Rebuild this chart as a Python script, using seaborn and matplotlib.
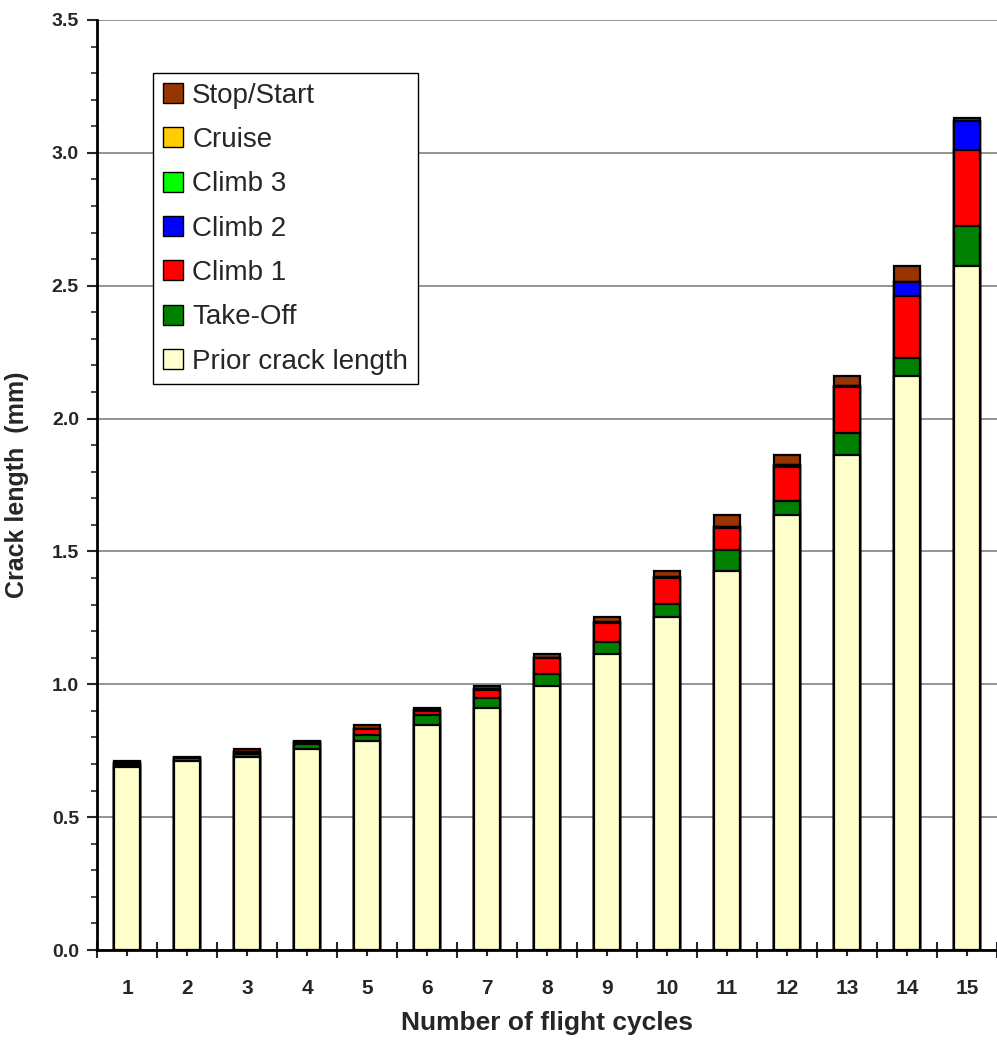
import numpy as np
import pandas as pd
import matplotlib
matplotlib.use("Agg")
import matplotlib.pyplot as plt
import seaborn as sns
from matplotlib.ticker import MultipleLocator, FixedLocator, FormatStrFormatter

# Crack growth per flight cycle, split by flight segment (mm)
cycles = ["1", "2", "3", "4", "5", "6", "7", "8", "9", "10", "11", "12", "13", "14", "15"]
prior = [0.690, 0.711, 0.728, 0.757, 0.788, 0.848, 0.911, 0.995, 1.115, 1.252,
         1.428, 1.636, 1.864, 2.160, 2.575]
take_off = [0.008, 0.011, 0.011, 0.020, 0.022, 0.038, 0.037, 0.045, 0.043, 0.051,
            0.078, 0.053, 0.081, 0.068, 0.148]
climb1 = [0.004, 0.002, 0.006, 0.005, 0.021, 0.014, 0.031, 0.058, 0.074, 0.097,
          0.084, 0.127, 0.174, 0.233, 0.289]
climb2 = [0.001, 0.000, 0.002, 0.002, 0.002, 0.002, 0.003, 0.002, 0.003, 0.003,
          0.003, 0.010, 0.003, 0.052, 0.107]
climb3 = [0.000, 0.000, 0.000, 0.000, 0.000, 0.000, 0.000, 0.000, 0.000, 0.000,
          0.000, 0.000, 0.000, 0.000, 0.000]
cruise = [0.000, 0.000, 0.000, 0.000, 0.000, 0.000, 0.000, 0.000, 0.000, 0.000,
          0.000, 0.000, 0.000, 0.000, 0.000]
stop_start = [0.008, 0.004, 0.010, 0.004, 0.015, 0.009, 0.013, 0.015, 0.017, 0.025,
              0.043, 0.038, 0.038, 0.062, 0.013]

segment_names = ["Prior crack length", "Take-Off", "Climb 1", "Climb 2",
                 "Climb 3", "Cruise", "Stop/Start"]
segment_colors = ["#FFFFCC", "#008000", "#FF0000", "#0000FF",
                  "#00FF00", "#FFCC00", "#993300"]

sns.set_theme(style="white")
plt.rcParams["font.family"] = ["Liberation Sans", "DejaVu Sans"]
plt.rcParams["font.weight"] = "bold"

df = pd.DataFrame({"cycle": cycles})
stack = np.vstack([prior, take_off, climb1, climb2, climb3, cruise, stop_start])
tops = np.cumsum(stack, axis=0)
for name, row in zip(segment_names, tops):
    df[name] = row

fig = plt.figure(figsize=(9.97, 10.45), dpi=100)
ax = fig.add_axes([0.0973, 0.0909, 0.9027, 0.89])
ax.set_axisbelow(True)

# Stacked bars: draw the tallest cumulative layer first, then smaller ones over it
for name, color in zip(segment_names[::-1], segment_colors[::-1]):
    sns.barplot(data=df, x="cycle", y=name, color=color, saturation=1,
                edgecolor="black", linewidth=1.6, width=0.42,
                errorbar=None, label=name, ax=ax)

ax.set_xlim(-0.5, 14.5)
ax.set_ylim(0, 3.5)
ax.yaxis.set_major_locator(MultipleLocator(0.5))
ax.yaxis.set_minor_locator(MultipleLocator(0.1))
ax.yaxis.set_major_formatter(FormatStrFormatter("%.1f"))
ax.xaxis.set_minor_locator(FixedLocator(np.arange(-0.5, 15.0, 1.0)))

ax.tick_params(axis="x", which="major", direction="out", length=4, width=1.5,
               pad=17, labelsize=15, bottom=True)
ax.tick_params(axis="x", which="minor", direction="inout", length=12, width=1.5,
               bottom=True)
ax.tick_params(axis="y", which="major", direction="out", length=7, width=1.5,
               pad=6, labelsize=14, left=True)
ax.tick_params(axis="y", which="minor", direction="out", length=4, width=1.2,
               left=True)

ax.yaxis.grid(True, which="major", color="#808080", linewidth=1.2)
ax.xaxis.grid(False)
for side in ["top", "right"]:
    ax.spines[side].set_visible(False)
for side in ["left", "bottom"]:
    ax.spines[side].set_color("black")
    ax.spines[side].set_linewidth(2)

ax.set_xlabel("Number of flight cycles", fontsize=19, fontweight="bold", labelpad=9)
ax.set_ylabel("Crack length  (mm)", fontsize=18, fontweight="bold", labelpad=16)

handles, labels = ax.get_legend_handles_labels()
leg = ax.legend(handles, labels, loc="upper left", bbox_to_anchor=(0.062, 0.943),
                borderaxespad=0, frameon=True, fancybox=False, framealpha=1,
                edgecolor="black", prop={"size": 20, "weight": "normal"},
                handlelength=0.72, handleheight=0.72, handletextpad=0.35,
                labelspacing=0.66, borderpad=0.35)
leg.get_frame().set_linewidth(1.0)
for h in leg.legend_handles:
    h.set_linewidth(1.0)

fig.savefig("out.png", dpi=100)
